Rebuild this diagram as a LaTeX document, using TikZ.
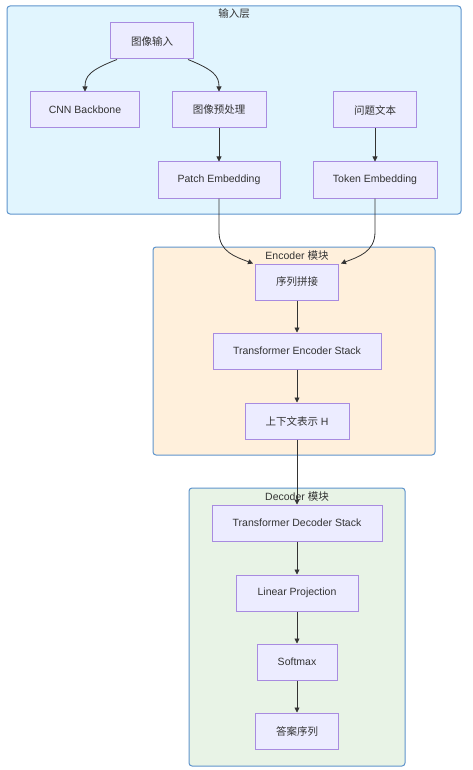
\documentclass[tikz,border=0pt]{standalone}
\usepackage{fontspec}
\setmainfont{Liberation Sans}
\newfontfamily\cjk{Noto Sans CJK SC}
\usetikzlibrary{arrows.meta}
\definecolor{nodefill}{HTML}{ECECFF}
\definecolor{nodeline}{HTML}{A88BE0}
\definecolor{groupline}{HTML}{5E94CC}
\definecolor{inputfill}{HTML}{E1F5FE}
\definecolor{encfill}{HTML}{FFF0DC}
\definecolor{decfill}{HTML}{E8F3E6}
\definecolor{textgray}{HTML}{333333}

\begin{document}
\begin{tikzpicture}[
    x=1pt, y=-1pt,
    box/.style={rectangle, draw=nodeline, fill=nodefill, line width=1pt, minimum height=36pt, inner sep=0pt, text=textgray, font=\fontsize{10.5}{12}\selectfont},
    group/.style={rectangle, draw=groupline, rounded corners=3pt, line width=1pt, inner sep=0pt},
    grouptitle/.style={text=textgray, font=\fontsize{10.5}{12}\selectfont, inner sep=0pt},
    flow/.style={-{Triangle[length=5pt,width=5pt]}, line width=0.8pt, draw=textgray},
]
    \useasboundingbox (0,0) rectangle (472,770);

    % Input layer
    \node[group, fill=inputfill, minimum width=454pt, minimum height=208pt] (input) at (234,110) {};
    \node[grouptitle] (inputtitle) at (234,14) {\cjk 输入层};
    \node[box, minimum width=83pt] (img) at (152,41) {\cjk 图像输入};
    \node[box, minimum width=109pt] (cnn) at (85,110) {CNN Backbone};
    \node[box, minimum width=94pt] (pre) at (219,110) {\cjk 图像预处理};
    \node[box, minimum width=83pt] (question) at (375,110) {\cjk 问题文本};
    \node[box, minimum width=122pt] (patch) at (219,180) {Patch Embedding};
    \node[box, minimum width=124pt] (token) at (375,180) {Token Embedding};

    % Encoder block
    \node[group, fill=encfill, minimum width=282pt, minimum height=208pt] (encoder) at (294,351) {};
    \node[grouptitle] (enctitle) at (297,256) {Encoder {\cjk 模块}};
    \node[box, minimum width=83pt] (concat) at (297,282) {\cjk 序列拼接};
    \node[box, minimum width=168pt] (encstack) at (297,351) {Transformer Encoder Stack};
    \node[box, minimum width=104pt] (context) at (297,421) {{\cjk 上下文表示} H};

    % Decoder block
    \node[group, fill=decfill, minimum width=216pt, minimum height=278pt] (decoder) at (297,627) {};
    \node[grouptitle] (dectitle) at (297,497) {Decoder {\cjk 模块}};
    \node[box, minimum width=170pt] (decstack) at (297,523) {Transformer Decoder Stack};
    \node[box, minimum width=122pt] (linear) at (297,593) {Linear Projection};
    \node[box, minimum width=80pt] (softmax) at (297,662) {Softmax};
    \node[box, minimum width=83pt] (answer) at (297,731) {\cjk 答案序列};

    % Data flow
    \draw[flow] ([xshift=7pt]img.south west) .. controls (90,70) and (85,76) .. (cnn.north);
    \draw[flow] ([xshift=-6pt]img.south east) .. controls (214,70) and (219,76) .. (pre.north);
    \draw[flow] (pre) -- (patch);
    \draw[flow] (question) -- (token);
    \draw[flow] (patch.south) -- (219,232) .. controls (219,252) and (236,257) .. ([xshift=-2pt]concat.north west);
    \draw[flow] (token.south) -- (375,232) .. controls (375,252) and (358,257) .. ([xshift=2pt]concat.north east);
    \draw[flow] (concat) -- (encstack);
    \draw[flow] (encstack) -- (context);
    \draw[flow] (context) -- (decstack);
    \draw[flow] (decstack) -- (linear);
    \draw[flow] (linear) -- (softmax);
    \draw[flow] (softmax) -- (answer);
\end{tikzpicture}
\end{document}
